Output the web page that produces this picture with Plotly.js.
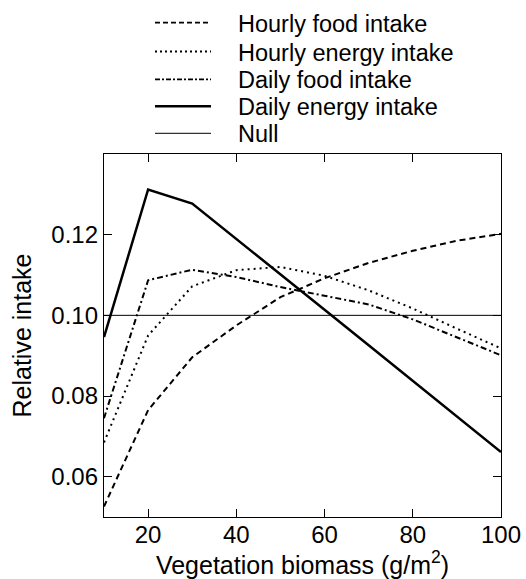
<!DOCTYPE html>
<html>
<head>
<meta charset="utf-8">
<script src="https://cdn.plot.ly/plotly-3.0.1.min.js"></script>
<style>html,body{margin:0;padding:0;background:#fff}#chart{width:526px;height:579px}</style>
</head>
<body>
<div id="chart"></div>
<script>
var biomass = [10, 20, 30, 40, 50, 60, 70, 80, 90, 100];
var hourlyFood   = [0.0526, 0.0765, 0.0896, 0.0975, 0.1045, 0.1092, 0.1130, 0.1160, 0.1185, 0.1202];
var hourlyEnergy = [0.0685, 0.0950, 0.1072, 0.1112, 0.1120, 0.1098, 0.1062, 0.1017, 0.0967, 0.0918];
var dailyFood    = [0.0745, 0.1087, 0.1113, 0.1095, 0.1070, 0.1049, 0.1027, 0.0990, 0.0946, 0.0901];
var dailyEnergy  = [0.0946, 0.1312, 0.1277, 0.1190, 0.1102, 0.1014, 0.0926, 0.0838, 0.0750, 0.0661];
var nullX = [10, 100];
var nullY = [0.10, 0.10];
var seriesNames = ["Hourly food intake", "Hourly energy intake", "Daily food intake", "Daily energy intake", "Null"];
var xTicks = [20, 40, 60, 80, 100];
var yTicks = [0.06, 0.08, 0.10, 0.12];
var yTickText = ["0.06", "0.08", "0.10", "0.12"];

var FONT = "Liberation Sans, Arial, Helvetica, sans-serif";
var W = 526, H = 579;
var M = {l: 104, r: 25, t: 154, b: 62};
var plotW = W - M.l - M.r, plotH = H - M.t - M.b;
function pxX(px) { return (px - M.l) / plotW; }
function pxY(py) { return (H - M.b - py) / plotH; }

var styles = [
  {color: "#000", width: 2, dash: "6px,4px"},
  {color: "#000", width: 2, dash: "2px,4px"},
  {color: "#000", width: 2, dash: "6px,3px,2px,3px"},
  {color: "#000", width: 2.5},
  {color: "#000", width: 1}
];
var seriesY = [hourlyFood, hourlyEnergy, dailyFood, dailyEnergy, nullY];
var seriesX = [biomass, biomass, biomass, biomass, nullX];

var traces = seriesNames.map(function (n, i) {
  return {x: seriesX[i], y: seriesY[i], name: n, mode: "lines", line: styles[i],
          showlegend: false, hoverinfo: "skip"};
});

// hand-placed legend (keys above the plot, as in the reference)
var legendRowsPx = [22.7, 51.5, 79.3, 106.3, 133.3];
var legendLineStyles = [
  {color: "#000", width: 1.8, dash: "5px,3px"},
  {color: "#000", width: 1.8, dash: "2px,3px"},
  {color: "#000", width: 1.8, dash: "5px,2px,2px,2px"},
  {color: "#000", width: 2.5},
  {color: "#000", width: 1}
];
var shapes = [], annotations = [];
seriesNames.forEach(function (n, i) {
  var yy = pxY(legendRowsPx[i]);
  shapes.push({type: "line", xref: "paper", yref: "paper",
               x0: pxX(155), x1: pxX(211), y0: yy, y1: yy, line: legendLineStyles[i]});
  annotations.push({xref: "paper", yref: "paper", x: pxX(236), y: pxY(legendRowsPx[i] + 1),
                    xanchor: "left", yanchor: "middle", showarrow: false, text: n,
                    font: {family: FONT, size: 23.5, color: "#000"}});
});

var layout = {
  width: W, height: H,
  margin: M,
  paper_bgcolor: "#fff", plot_bgcolor: "#fff",
  font: {family: FONT, color: "#000", size: 24},
  showlegend: false,
  shapes: shapes,
  annotations: annotations,
  xaxis: {
    range: [10, 100], tickvals: xTicks, ticks: "inside", ticklen: 8,
    tickcolor: "#000", showline: true, linecolor: "#000", linewidth: 1.2,
    mirror: "ticks", showgrid: false, zeroline: false, automargin: false,
    tickfont: {family: FONT, size: 24}, ticklabelstandoff: -4,
    title: {text: "Vegetation biomass (g/m<sup>2</sup>)", font: {family: FONT, size: 25}, standoff: 6}
  },
  yaxis: {
    range: [0.05, 0.14], tickvals: yTicks, ticktext: yTickText, ticks: "inside", ticklen: 8,
    tickcolor: "#000", showline: true, linecolor: "#000", linewidth: 1.2,
    mirror: "ticks", showgrid: false, zeroline: false, automargin: false,
    tickfont: {family: FONT, size: 24},
    title: {text: "Relative intake", font: {family: FONT, size: 25}, standoff: 12}
  }
};

Plotly.newPlot("chart", traces, layout, {staticPlot: true, displayModeBar: false});
</script>
</body>
</html>
